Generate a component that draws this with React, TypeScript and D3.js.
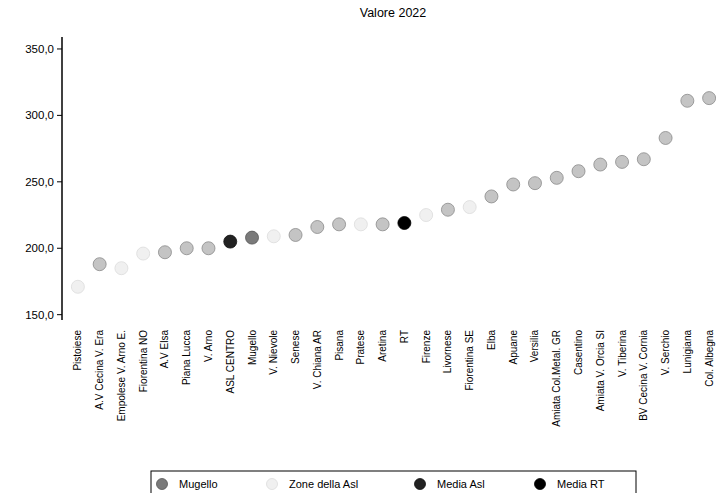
import React from "react";
import * as d3 from "d3";

const zones = [
  "Pistoiese", "A.V Cecina V. Era", "Empolese V. Arno E.", "Fiorentina NO", "A.V Elsa",
  "Piana Lucca", "V. Arno", "ASL CENTRO", "Mugello", "V. Nievole",
  "Senese", "V. Chiana AR", "Pisana", "Pratese", "Aretina",
  "RT", "Firenze", "Livornese", "Fiorentina SE", "Elba",
  "Apuane", "Versilia", "Amiata Col.Metal. GR", "Casentino", "Amiata V. Orcia SI",
  "V. Tiberina", "BV Cecina V. Cornia", "V. Serchio", "Lunigiana", "Col. Albegna",
];
const values = [
  171, 188, 185, 196, 197,
  200, 200, 205, 208, 209,
  210, 216, 218, 218, 218,
  219, 225, 229, 231, 239,
  248, 249, 253, 258, 263,
  265, 267, 283, 311, 313,
];
// kind: other zone, asl zone, mugello, media asl, media rt
const kinds = [
  "asl", "other", "asl", "asl", "other",
  "other", "other", "mediaAsl", "mugello", "asl",
  "other", "other", "other", "asl", "other",
  "mediaRT", "asl", "other", "asl", "other",
  "other", "other", "other", "other", "other",
  "other", "other", "other", "other", "other",
];
const yTicks = [150, 200, 250, 300, 350];
const legendItems = ["Mugello", "Zone della Asl", "Media Asl", "Media RT"];
const legendKinds = ["mugello", "asl", "mediaAsl", "mediaRT"];

const fills: Record<string, string> = {
  other: "#c4c4c4",
  asl: "#f0f0f0",
  mugello: "#7a7a7a",
  mediaAsl: "#222",
  mediaRT: "#000",
};
const strokes: Record<string, string> = {
  other: "#8a8a8a",
  asl: "#dcdcdc",
  mugello: "#555",
  mediaAsl: "#111",
  mediaRT: "#000",
};

export default function App() {
  const W = 716, H = 493;
  const x = d3.scalePoint<string>().domain(zones).range([67, 720]).padding(0.5);
  const y = d3.scaleLinear().domain([146, 359]).range([320, 37]);
  const fmt = (v: number) => d3.format(".1f")(v).replace(".", ",");
  const font = "Liberation Sans, Arial, sans-serif";
  const legendX = [162, 272, 420, 540];
  return (
    <svg width={W} height={H} style={{ position: "absolute", left: 0, top: 0, background: "#fff" }} fontFamily={font}>
      <text x={393} y={17} textAnchor="middle" fontSize={12.5}>Valore 2022</text>
      {/* y axis */}
      <line x1={62} x2={62} y1={y.range()[1]} y2={y.range()[0]} stroke="#000" strokeWidth={1.5} />
      {yTicks.map((t) => (
        <g key={t}>
          <line x1={57} x2={62} y1={y(t)} y2={y(t)} stroke="#000" />
          <text x={54} y={y(t)} dy="0.35em" textAnchor="end" fontSize={11.5}>{fmt(t)}</text>
        </g>
      ))}
      {/* points */}
      {zones.map((z, i) => (
        <circle key={z} cx={x(z)} cy={y(values[i])} r={6.5}
          fill={fills[kinds[i]]} stroke={strokes[kinds[i]]} strokeWidth={0.8} />
      ))}
      {/* x labels */}
      {zones.map((z) => (
        <text key={z} transform={`translate(${x(z)},330) rotate(-90)`} textAnchor="end" dy="0.35em" fontSize={10}>{z}</text>
      ))}
      {/* legend */}
      <rect x={151} y={471} width={485} height={30} fill="none" stroke="#000" strokeWidth={1} />
      {legendItems.map((l, i) => (
        <g key={l}>
          <circle cx={legendX[i]} cy={484} r={5.5} fill={fills[legendKinds[i]]} stroke={strokes[legendKinds[i]]} strokeWidth={0.8} />
          <text x={legendX[i] + 17} y={484} dy="0.35em" fontSize={11}>{l}</text>
        </g>
      ))}
    </svg>
  );
}
